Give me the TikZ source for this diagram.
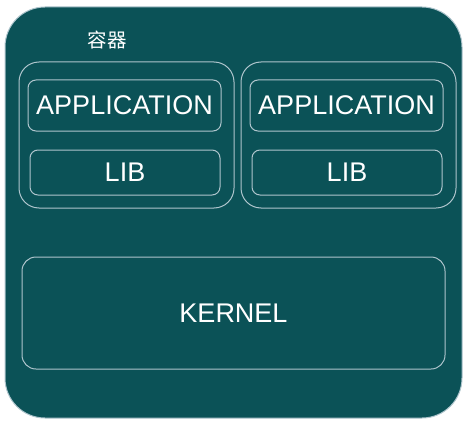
\documentclass[tikz,border=0pt]{standalone}
\usepackage{fontspec}
\setmainfont{Liberation Sans}
\newfontfamily\cjk{Noto Sans CJK SC}
\definecolor{teal}{HTML}{0B5257}
\definecolor{edge}{HTML}{AFC5CD}
\tikzset{
  layer/.style={draw=edge, line width=1pt, text=white, inner sep=0pt, font=\fontsize{27}{30}\selectfont},
  groupbox/.style={layer, rounded corners=20pt, minimum width=215pt, minimum height=146pt},
  appbox/.style={layer, rounded corners=8pt, minimum width=193pt, minimum height=51pt},
  libbox/.style={layer, rounded corners=8pt, minimum width=190pt, minimum height=45pt}
}
\begin{document}
\begin{tikzpicture}[x=1pt, y=-1pt]
        \useasboundingbox (0,0) rectangle (465,425);

        % Container background
        \node[draw=edge, line width=1pt, fill=teal, rounded corners=40pt, minimum width=457pt, minimum height=411pt, inner sep=0pt] (container) at (233.5,212.5) {};
        \node[text=white, font=\cjk\fontsize{19.5}{22}\selectfont] (title) at (107,40) {容器};

        % Two groups, each an application on a lib
        \foreach \name/\x in {left/0, right/222} {
          \node[groupbox] (\name group) at (126.5+\x,135) {};
          \node[appbox] (\name app) at (124.5+\x,105.5) {APPLICATION};
          \node[libbox] (\name lib) at (125+\x,172.5) {LIB};
        }

        % Shared kernel
        \node[layer, rounded corners=14pt, minimum width=423pt, minimum height=112pt] (kernel) at (233.5,313) {KERNEL};
      \end{tikzpicture}
\end{document}
